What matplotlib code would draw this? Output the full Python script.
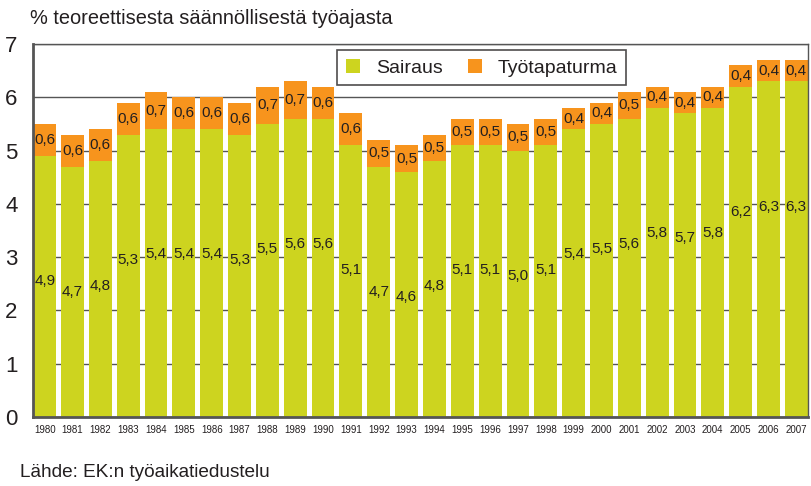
import matplotlib
matplotlib.use("Agg")
from matplotlib import pyplot as plt
from matplotlib.patches import Patch

plt.rcParams['font.family'] = ['Liberation Sans', 'DejaVu Sans']

# Datos
vuodet = [str(v) for v in range(1980, 2008)]
sairaus = [4.9, 4.7, 4.8, 5.3, 5.4, 5.4, 5.4, 5.3, 5.5, 5.6, 5.6, 5.1, 4.7, 4.6,
           4.8, 5.1, 5.1, 5.0, 5.1, 5.4, 5.5, 5.6, 5.8, 5.7, 5.8, 6.2, 6.3, 6.3]
tyotapaturma = [0.6, 0.6, 0.6, 0.6, 0.7, 0.6, 0.6, 0.6, 0.7, 0.7, 0.6, 0.6, 0.5, 0.5,
                0.5, 0.5, 0.5, 0.5, 0.5, 0.4, 0.4, 0.5, 0.4, 0.4, 0.4, 0.4, 0.4, 0.4]

vihrea = '#CDD41F'
oranssi = '#F7941D'
teksti = '#231F20'

fig = plt.figure(figsize=(8.11, 4.86), dpi=100)
ax = fig.add_axes([33 / 811, 1 - 417 / 486, 775 / 811, 373 / 486])

x = list(range(len(vuodet)))
ax.bar(x, sairaus, width=0.82, color=vihrea, zorder=2)
ax.bar(x, tyotapaturma, width=0.82, bottom=sairaus, color=oranssi, zorder=2)

def fmt(v):
    return f"{v:.1f}".replace('.', ',')

for i in x:
    ax.text(i, sairaus[i] - 2.35, fmt(sairaus[i]), ha='center', va='center',
            fontsize=11, color=teksti, zorder=3)
    ax.text(i, sairaus[i] + tyotapaturma[i] / 2, fmt(tyotapaturma[i]), ha='center',
            va='center', fontsize=11, color=teksti, zorder=3)

ax.set_xlim(-0.42, len(vuodet) - 0.58)
ax.set_ylim(0, 7)
ax.set_yticks(range(8))
ax.set_yticklabels([str(v) for v in range(8)], fontsize=16, color=teksti)
ax.set_xticks(x)
ax.set_xticklabels(vuodet, fontsize=7, color=teksti)
ax.tick_params(axis='both', length=0)
ax.tick_params(axis='y', pad=11)
ax.tick_params(axis='x', pad=6)

ax.yaxis.grid(True, color='#555555', linewidth=1.0, zorder=1)
ax.set_axisbelow(True)
for s in ['left', 'bottom']:
    ax.spines[s].set_color('#555555')
    ax.spines[s].set_linewidth(2)
for s in ['top', 'right']:
    ax.spines[s].set_color('#555555')
    ax.spines[s].set_linewidth(1)

kahvat = [Patch(facecolor=vihrea, edgecolor='none'), Patch(facecolor=oranssi, edgecolor='none')]
leg = ax.legend(kahvat, ['Sairaus', 'Työtapaturma'], ncol=2, loc='upper left',
                bbox_to_anchor=(0.392, 0.984), borderaxespad=0, fontsize=14, frameon=True,
                fancybox=False, handlelength=0.75, handleheight=0.75, columnspacing=1.3,
                handletextpad=0.8, borderpad=0.45, labelcolor=teksti)
leg.get_frame().set_edgecolor('#231F20')
leg.get_frame().set_linewidth(1.2)

fig.text(30 / 811, 1 - 18 / 486, '% teoreettisesta säännöllisestä työajasta', fontsize=14.4,
         color=teksti, va='center', ha='left')
fig.text(20 / 811, 1 - 472 / 486, 'Lähde: EK:n työaikatiedustelu', fontsize=13.7,
         color=teksti, va='center', ha='left')

fig.savefig('out.png', dpi=100)
